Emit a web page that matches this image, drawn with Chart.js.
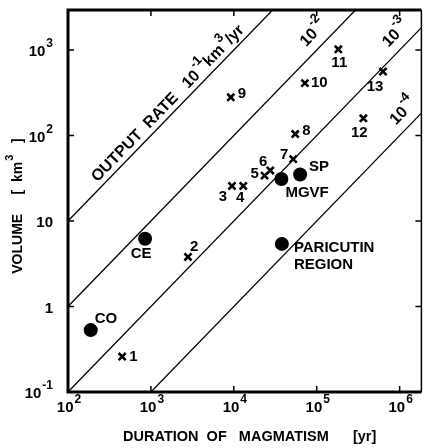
<!DOCTYPE html>
<html>
<head>
<meta charset="utf-8">
<script src="https://cdn.jsdelivr.net/npm/chart.js@4/dist/chart.umd.min.js"></script>
<style>
  html, body { margin: 0; padding: 0; background: #fff; }
  #wrap { width: 429px; height: 448px; }
</style>
</head>
<body>
<div id="wrap"><canvas id="myChart"></canvas></div>
<script>
// numbered volcanic fields (crosses)
const crossLabels = ['1', '2', '3', '4', '5', '6', '7', '8', '9', '10', '11', '12', '13'];
const crossDuration = [450, 2800, 9500, 13000, 23500, 27500, 52000, 55000, 9200, 72000, 182000, 365000, 630000];
const crossVolume = [0.26, 3.8, 25.7, 25.7, 34, 39, 53, 104, 280, 410, 1020, 159, 560];

// named fields (filled circles)
const fieldLabels = ['CO', 'CE', 'MGVF', 'SP', 'PARICUTIN REGION'];
const fieldDuration = [188, 850, 37500, 63000, 38000];
const fieldVolume = [0.53, 6.2, 31, 35, 5.4];

// output rate lines, km3/yr
const outputRates = [1e-1, 1e-2, 1e-3, 1e-4];

// axis ticks
const durationTicks = [1e2, 1e3, 1e4, 1e5, 1e6];
const durationTickExp = ['2', '3', '4', '5', '6'];
const volumeTicks = [1e-1, 1, 10, 1e2, 1e3];
const volumeTickBase = ['10', '1', '10', '10', '10'];
const volumeTickExp = ['-1', '', '', '2', '3'];

const X_MIN = 100, X_MAX = 1.83e6, Y_MIN = 0.1, Y_MAX = 2940;
const FONT = '"Liberation Sans", Arial, sans-serif';

// label placement (pixels from marker)
const crossOffsets = [[7, 0, 'left'], [2, -10, 'left'], [-9, 11, 'center'], [-3, 12, 'center'],
  [-10, -2, 'center'], [-7, -9, 'center'], [-9, -4, 'center'], [7, -3, 'left'], [7, -3, 'left'],
  [6, 0, 'left'], [1, 14, 'center'], [-4, 15, 'center'], [-8, 15, 'center']];
const fieldOffsets = [[4, -11, 'left'], [-4, 15, 'center'], [4, 14, 'left'], [9, -8, 'left'], [12, 4, 'left']];
// where along each rate line its label sits (duration value) and its distance from the line
const rateLabelAt = [1960, 121000, 1190000, 1470000];
const rateLabelGap = [10, 14, 14, 14];
const rateLabelParts = [
  [{ t: 'OUTPUT  RATE   10' }, { t: '-1', sup: true }, { t: 'km' }, { t: '3', sup: true }, { t: '/yr' }],
  [{ t: '10' }, { t: '-2', sup: true }],
  [{ t: '10' }, { t: '-3', sup: true }],
  [{ t: '10' }, { t: '-4', sup: true }]
];

// draw text with raised exponents
function drawRich(c, parts, x, y, align, size) {
  const supSize = Math.round(size * 0.8);
  let w = 0;
  parts.forEach(p => {
    c.font = 'bold ' + (p.sup ? supSize : size) + 'px ' + FONT;
    p.w = c.measureText(p.t).width;
    w += p.w + (p.sup ? 1 : 0);
  });
  let cx = align === 'center' ? x - w / 2 : align === 'right' ? x - w : x;
  c.textAlign = 'left';
  c.textBaseline = 'middle';
  parts.forEach(p => {
    c.font = 'bold ' + (p.sup ? supSize : size) + 'px ' + FONT;
    c.fillText(p.t, cx + (p.sup ? 1 : 0), p.sup ? y - size * 0.55 : y);
    cx += p.w + (p.sup ? 1 : 0);
  });
}

const framePlugin = {
  id: 'frame',
  afterDatasetsDraw(chart) {
    const c = chart.ctx;
    const a = chart.chartArea;
    const xs = chart.scales.x, ys = chart.scales.y;
    c.save();
    c.fillStyle = '#000';
    c.strokeStyle = '#000';

    // frame
    c.lineWidth = 3;
    c.beginPath();
    c.moveTo(a.right, a.top); c.lineTo(a.left, a.top); c.lineTo(a.left, a.bottom); c.lineTo(a.right, a.bottom);
    c.stroke();
    c.lineWidth = 1.5;
    c.beginPath();
    c.moveTo(a.right, a.top); c.lineTo(a.right, a.bottom);
    c.stroke();

    // inward ticks
    c.lineWidth = 1.5;
    durationTicks.forEach(v => {
      const px = xs.getPixelForValue(v);
      c.beginPath();
      c.moveTo(px, a.bottom); c.lineTo(px, a.bottom - 6);
      c.moveTo(px, a.top); c.lineTo(px, a.top + 6);
      c.stroke();
    });
    volumeTicks.forEach(v => {
      const py = ys.getPixelForValue(v);
      c.beginPath();
      c.moveTo(a.left, py); c.lineTo(a.left + 6, py);
      c.moveTo(a.right, py); c.lineTo(a.right - 6, py);
      c.stroke();
    });

    // tick labels
    durationTicks.forEach((v, i) => {
      drawRich(c, [{ t: '10' }, { t: durationTickExp[i], sup: true }], xs.getPixelForValue(v) + 1, a.bottom + 16, 'center', 15);
    });
    volumeTicks.forEach((v, i) => {
      const parts = [{ t: volumeTickBase[i] }];
      if (volumeTickExp[i]) parts.push({ t: volumeTickExp[i], sup: true });
      drawRich(c, parts, a.left - 15, ys.getPixelForValue(v) + 2, 'right', 15);
    });

    // axis titles
    drawRich(c, [{ t: 'DURATION  OF   MAGMATISM      [yr]' }], (a.left + a.right) / 2 + 5, 437, 'center', 14.5);
    c.save();
    c.translate(18, 206);
    c.rotate(-Math.PI / 2);
    drawRich(c, [{ t: 'VOLUME     [  km' }, { t: '3', sup: true }, { t: '   ]' }], 0, 0, 'center', 14);
    c.restore();

    // point labels
    crossLabels.forEach((lab, i) => {
      const o = crossOffsets[i];
      drawRich(c, [{ t: lab }], xs.getPixelForValue(crossDuration[i]) + o[0], ys.getPixelForValue(crossVolume[i]) + o[1], o[2], 15);
    });
    fieldLabels.forEach((lab, i) => {
      const o = fieldOffsets[i];
      const px = xs.getPixelForValue(fieldDuration[i]) + o[0];
      const py = ys.getPixelForValue(fieldVolume[i]) + o[1];
      if (lab.startsWith('PARICUTIN')) {
        drawRich(c, [{ t: 'PARICUTIN' }], px, py, o[2], 15);
        drawRich(c, [{ t: 'REGION' }], px, py + 17, o[2], 15);
      } else {
        drawRich(c, [{ t: lab }], px, py, o[2], 15);
      }
    });

    // rate line labels, rotated along each line
    outputRates.forEach((r, i) => {
      const v = rateLabelAt[i];
      const x1 = xs.getPixelForValue(v), y1 = ys.getPixelForValue(r * v);
      const x2 = xs.getPixelForValue(v * 10), y2 = ys.getPixelForValue(r * v * 10);
      const ang = Math.atan2(y2 - y1, x2 - x1);
      const off = rateLabelGap[i];
      c.save();
      c.translate(x1 + Math.sin(ang) * off, y1 - Math.cos(ang) * off);
      c.rotate(ang);
      drawRich(c, rateLabelParts[i], 0, 0, 'center', 16);
      c.restore();
    });
    c.restore();
  }
};

const rateDatasets = outputRates.map(r => ({
  type: 'line',
  data: [{ x: X_MIN, y: r * X_MIN }, { x: X_MAX, y: r * X_MAX }],
  borderColor: '#000',
  borderWidth: 1.3,
  pointRadius: 0,
  fill: false
}));

const noSize = scale => { if (scale.axis === 'x') scale.height = 0; else scale.width = 0; };

new Chart(document.getElementById('myChart'), {
  type: 'scatter',
  data: {
    datasets: [
      ...rateDatasets,
      {
        label: 'fields',
        data: crossDuration.map((d, i) => ({ x: d, y: crossVolume[i] })),
        pointStyle: 'crossRot',
        pointRadius: 5,
        borderWidth: 2.6,
        borderColor: '#000',
        backgroundColor: '#000'
      },
      {
        label: 'named',
        data: fieldDuration.map((d, i) => ({ x: d, y: fieldVolume[i] })),
        pointStyle: 'circle',
        pointRadius: 7,
        borderWidth: 0,
        backgroundColor: '#000'
      }
    ]
  },
  options: {
    responsive: true,
    maintainAspectRatio: false,
    animation: false,
    layout: { padding: { left: 68, top: 10, right: 2, bottom: 56 } },
    plugins: { legend: { display: false }, tooltip: { enabled: false } },
    scales: {
      x: {
        type: 'logarithmic', min: X_MIN, max: X_MAX,
        ticks: { display: false }, grid: { display: false }, border: { display: false },
        afterFit: noSize
      },
      y: {
        type: 'logarithmic', min: Y_MIN, max: Y_MAX,
        ticks: { display: false }, grid: { display: false }, border: { display: false },
        afterFit: noSize
      }
    }
  },
  plugins: [framePlugin]
});
</script>
</body>
</html>
